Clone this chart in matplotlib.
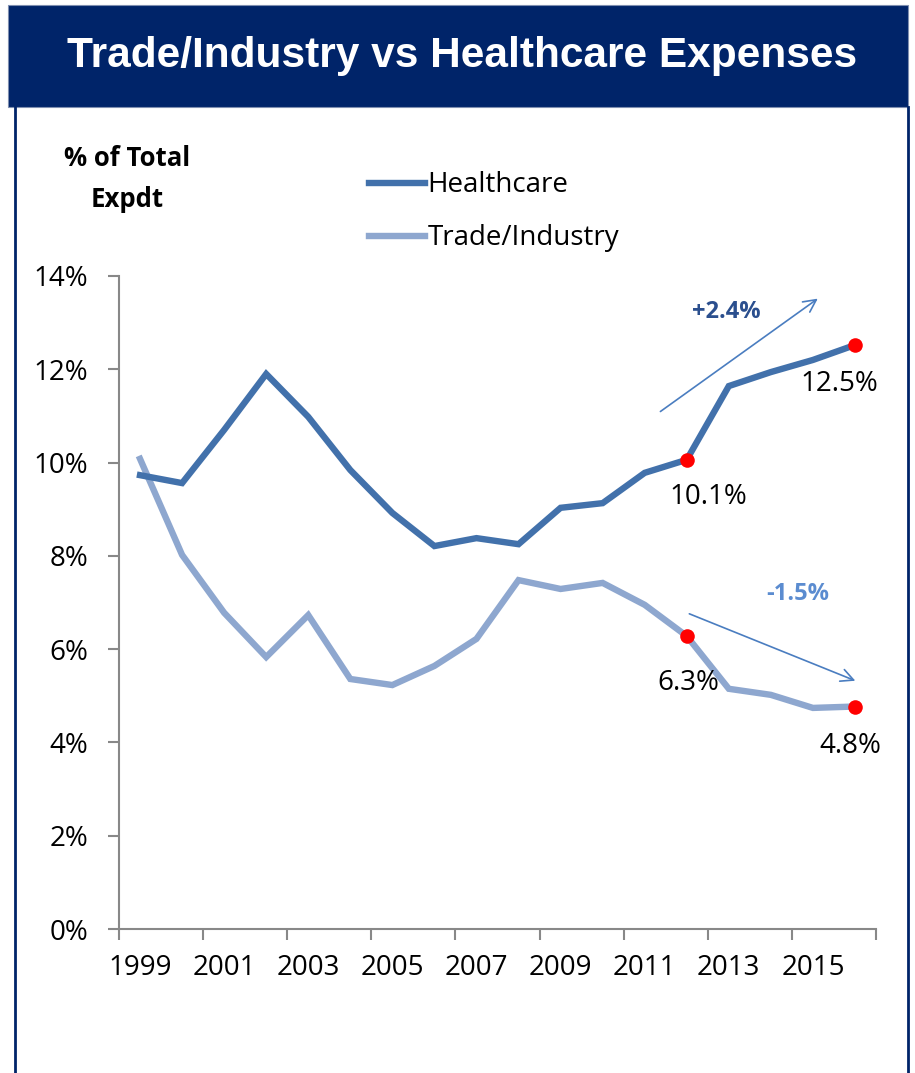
import matplotlib
matplotlib.use("Agg")
import matplotlib.pyplot as plt
from matplotlib.patches import Rectangle
from matplotlib.lines import Line2D

years = list(range(1999, 2017))
healthcare = [9.73, 9.56, 10.70, 11.90, 10.98, 9.84, 8.92, 8.21, 8.38, 8.25,
              9.03, 9.13, 9.78, 10.06, 11.64, 11.94, 12.20, 12.52]
trade = [10.08, 8.02, 6.78, 5.83, 6.73, 5.36, 5.23, 5.64, 6.22, 7.48,
         7.29, 7.42, 6.95, 6.28, 5.15, 5.02, 4.74, 4.77]
highlight_years = [2012, 2016]
hc_labels = ["10.1%", "12.5%"]
tr_labels = ["6.3%", "4.8%"]
yticks = [0, 2, 4, 6, 8, 10, 12, 14]
year_labels = [str(y) for y in years[::2]]

W, H = 915, 1073
fig = plt.figure(figsize=(W / 100, H / 100), dpi=100)
fig.patch.set_facecolor("white")

NAVY = "#002469"
HC = "#4271AB"
TR = "#8EA7CF"
FONT = ["Open Sans", "DejaVu Sans"]

def fx(px):
    return px / W

def fy(py):
    return 1 - py / H

# Header and frame
fig.add_artist(Rectangle((fx(8), fy(107)), fx(900), (102) / H, transform=fig.transFigure,
                         facecolor=NAVY, edgecolor="#7f8fb0", linewidth=0.8, zorder=0))
fig.add_artist(Line2D([fx(15), fx(15)], [fy(107), 0], transform=fig.transFigure,
                      color=NAVY, linewidth=2))
fig.add_artist(Line2D([fx(908), fx(908)], [fy(107), 0], transform=fig.transFigure,
                      color=NAVY, linewidth=2))
fig.text(fx(462), fy(56), "Trade/Industry vs Healthcare Expenses", color="white",
         fontsize=30.5, fontweight="bold", family=["Liberation Sans", "DejaVu Sans"],
         ha="center", va="center")

# Axes
ax = fig.add_axes([fx(119), fy(929), fx(876 - 119), (929 - 276) / H])
x = list(range(len(years)))
ax.plot(x, trade, color=TR, linewidth=4.6, solid_joinstyle="miter", zorder=2)
ax.plot(x, healthcare, color=HC, linewidth=4.6, solid_joinstyle="miter", zorder=3)

idx = [years.index(y) for y in highlight_years]
ax.scatter(idx, [healthcare[i] for i in idx], s=110, color="#FF0000", zorder=5, linewidths=0)
ax.scatter(idx, [trade[i] for i in idx], s=110, color="#FF0000", zorder=5, linewidths=0)

hc_off = [(22, -37), (-16, -39)]
tr_off = [(2, -47), (-5, -39)]
for i, lab, off in zip(idx, hc_labels, hc_off):
    ax.annotate(lab, (i, healthcare[i]), xytext=(off[0] * 0.72, off[1] * 0.72),
                textcoords="offset points", ha="center", va="center",
                fontsize=20, family=FONT, color="black")
for i, lab, off in zip(idx, tr_labels, tr_off):
    ax.annotate(lab, (i, trade[i]), xytext=(off[0] * 0.72, off[1] * 0.72),
                textcoords="offset points", ha="center", va="center",
                fontsize=20, family=FONT, color="black")

# trend arrows
ax.annotate("", xy=(16.17, 13.55), xytext=(12.32, 11.06),
            arrowprops=dict(arrowstyle="->,head_length=0.9,head_width=0.45",
                            color="#4A7DC0", linewidth=1.2))
ax.annotate("", xy=(17.07, 5.30), xytext=(13.0, 6.78),
            arrowprops=dict(arrowstyle="->,head_length=0.9,head_width=0.45",
                            color="#4A7DC0", linewidth=1.2), annotation_clip=False)
ax.text(13.93, 13.22, "+2.4%", color="#2B4F8E", fontsize=17, fontweight="bold",
        family=FONT, ha="center", va="center")
ax.text(15.64, 7.18, "-1.5%", color="#5B8CD0", fontsize=17, fontweight="bold",
        family=FONT, ha="center", va="center")

ax.set_xlim(-0.5, len(years) - 0.5)
ax.set_ylim(0, 14)
ax.set_yticks(yticks)
ax.set_yticklabels([f"{v}%" for v in yticks])
ax.set_xticks([k - 0.5 for k in range(0, len(years) + 1, 2)])
ax.set_xticklabels([])
ax.set_xticks(list(range(0, len(years), 2)), minor=True)
ax.set_xticklabels(year_labels, minor=True)
ax.tick_params(axis="x", which="major", length=8, width=1.5, color="#888888", direction="out")
ax.tick_params(axis="x", which="minor", length=0, pad=18, labelsize=20)
ax.tick_params(axis="y", which="major", length=8, width=1.5, color="#888888",
               direction="out", pad=14, labelsize=20)
for lab in ax.get_xticklabels(minor=True) + ax.get_yticklabels():
    lab.set_family(FONT)
for s in ["top", "right"]:
    ax.spines[s].set_visible(False)
for s in ["left", "bottom"]:
    ax.spines[s].set_color("#888888")
    ax.spines[s].set_linewidth(1.5)
ax.patch.set_alpha(0)

# y label
fig.text(fx(127), fy(179), "% of Total\nExpdt", fontsize=18.5, fontweight="bold",
         family=FONT, ha="center", va="center", linespacing=1.65)

# legend
handles = [Line2D([], [], color=HC, linewidth=4.6), Line2D([], [], color=TR, linewidth=4.6)]
leg = fig.legend(handles, ["Healthcare", "Trade/Industry"], loc="center left",
                 bbox_to_anchor=(fx(369), fy(212)), frameon=False,
                 prop={"family": FONT, "size": 20}, handlelength=2.0,
                 handletextpad=0.1, labelspacing=0.9, borderpad=0, borderaxespad=0)

fig.savefig("out.png", dpi=100)
